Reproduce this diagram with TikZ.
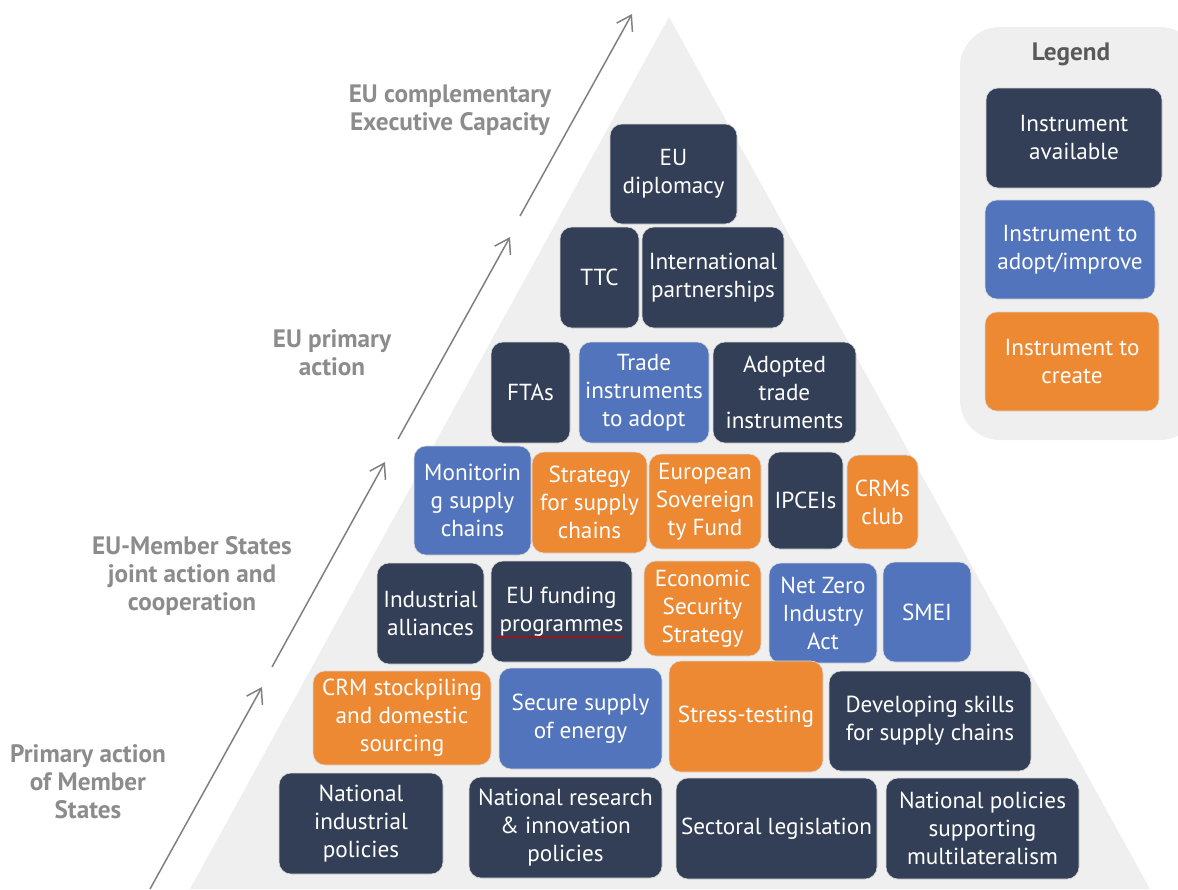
\documentclass[tikz,border=0pt]{standalone}
\usepackage{fontspec}
\setmainfont{PT Sans}
\usepackage{xcolor}
\usepackage{tikz}
\usetikzlibrary{arrows.meta, decorations.pathmorphing}
\definecolor{navy}{HTML}{323F56}
\definecolor{steel}{HTML}{5174BC}
\definecolor{amber}{HTML}{ED8833}
\definecolor{pyrgrey}{HTML}{EFEFEF}
\definecolor{lvlgrey}{HTML}{8C8C8C}

\begin{document}
\begin{tikzpicture}[x=0.5pt, y=-0.5pt,
  inst/.style={draw=white!85!black, line width=0.3pt, rounded corners=6pt, text=white, align=center, inner sep=1pt,
    font=\fontsize{11.6}{14}\selectfont},
  avail/.style={inst, fill=navy},
  adopt/.style={inst, fill=steel},
  create/.style={inst, fill=amber},
  level/.style={text=lvlgrey, align=center, font=\fontsize{12.6}{14}\selectfont\bfseries},
  rise/.style={-{Straight Barb[length=7pt, width=9pt, line width=0.75pt]}, line width=0.75pt, color=black!50}
]
  \useasboundingbox (0,0) rectangle (1178,889);

  % pyramid and legend background
  \fill[pyrgrey] (669,17) -- (1150,889) -- (190,889) -- cycle;
  \fill[pyrgrey, rounded corners=20pt] (960,27) rectangle (1200,440);

  % rising arrows
  \coordinate (a0) at (150,889);
  \coordinate (a1) at (262,687);
  \coordinate (a2) at (272,667);
  \coordinate (a3) at (385,462);
  \coordinate (a4) at (398,439);
  \coordinate (a5) at (510,237);
  \coordinate (a6) at (520,216);
  \coordinate (a7) at (632,14);
  \draw[rise] (a0) -- (a1);
  \draw[rise] (a2) -- (a3);
  \draw[rise] (a4) -- (a5);
  \draw[rise] (a6) -- (a7);

  \node[level] (lexec) at (450,110) {EU complementary\\Executive Capacity};
  \node[level] (lprim) at (332,353) {EU primary\\action};
  \node[level] (ljoint) at (192,576) {EU-Member States\\joint action and\\cooperation};
  \node[level] (lms) at (88,782) {Primary action\\of Member\\States};

  % pyramid rows
  \node[avail, minimum width=63.5pt, minimum height=50pt] (dipl) at (673.5,174) {EU\\diplomacy};

  \node[avail, minimum width=39.5pt, minimum height=50.5pt] (ttc) at (599.5,277.5) {TTC};
  \node[avail, minimum width=71pt, minimum height=50.5pt] (intl) at (713,277.5) {International\\partnerships};

  \node[avail, minimum width=39.5pt, minimum height=50.5pt] (fta) at (530.5,392.5) {FTAs};
  \node[adopt, minimum width=65pt, minimum height=50.5pt] (tradeadopt) at (644,392.5) {Trade\\instruments\\to adopt};
  \node[avail, minimum width=71.5pt, minimum height=50.5pt] (tradedone) at (784.5,392.5) {Adopted\\trade\\instruments};

  \node[adopt, minimum width=58.5pt, minimum height=54.5pt] (monit) at (472.5,500.5) {Monitorin\\g supply\\chains};
  \node[create, minimum width=57.5pt, minimum height=50.5pt] (strat) at (589.5,502.5) {Strategy\\for supply\\chains};
  \node[create, minimum width=56pt, minimum height=47.5pt] (esf) at (705,501.5) {European\\Sovereign\\ty Fund};
  \node[avail, minimum width=37.5pt, minimum height=48.5pt] (ipcei) at (805.5,500.5) {IPCEIs};
  \node[create, minimum width=35.5pt, minimum height=47pt] (crmclub) at (882.5,502) {CRMs\\club};

  \node[avail, minimum width=53.5pt, minimum height=50.5pt] (alli) at (430.5,613.5) {Industrial\\alliances};
  \node[avail, minimum width=70.5pt, minimum height=50.5pt] (fund) at (561.5,611.5) {EU funding\\programmes};
  \node[create, minimum width=58.5pt, minimum height=47.5pt] (ess) at (702.5,608.5) {Economic\\Security\\Strategy};
  \node[adopt, minimum width=54pt, minimum height=50pt] (nzia) at (823,613) {Net Zero\\Industry\\Act};
  \node[adopt, minimum width=44pt, minimum height=50pt] (smei) at (927,612) {SMEI};
  \draw[red!80!black, line width=0.4pt, decorate, decoration={snake, segment length=2.5pt, amplitude=0.5pt}] (495,637) -- (624,637);

  \node[create, minimum width=89pt, minimum height=47pt] (stock) at (402,718) {CRM stockpiling\\and domestic\\sourcing};
  \node[adopt, minimum width=81.5pt, minimum height=50.5pt] (energy) at (580.5,718.5) {Secure supply\\of energy};
  \node[create, minimum width=77pt, minimum height=55.5pt] (stress) at (746,716.5) {Stress-testing};
  \node[avail, minimum width=101pt, minimum height=50pt] (skills) at (930,721) {Developing skills\\for supply chains};

  \node[avail, minimum width=82pt, minimum height=50.5pt] (natind) at (361,823.5) {National\\industrial\\policies};
  \node[avail, minimum width=96.5pt, minimum height=50.5pt] (natres) at (565.5,827.5) {National research\\\& innovation\\policies};
  \node[avail, minimum width=100.5pt, minimum height=50.5pt] (sect) at (776.5,828.5) {Sectoral legislation};
  \node[avail, minimum width=96.5pt, minimum height=50.5pt] (multi) at (982.5,828.5) {National policies\\supporting\\multilateralism};

  % legend
  \node[text=black!65, font=\fontsize{12.6}{14}\selectfont\bfseries] (legend) at (1071,54) {Legend};
  \node[avail, minimum width=88pt, minimum height=50pt] (keyavail) at (1074,138) {Instrument\\available};
  \node[adopt, minimum width=85pt, minimum height=49.5pt] (keyadopt) at (1070,249.5) {Instrument to\\adopt/improve};
  \node[create, minimum width=87pt, minimum height=49.5pt] (keycreate) at (1072,361.5) {Instrument to\\create};
\end{tikzpicture}
\end{document}
